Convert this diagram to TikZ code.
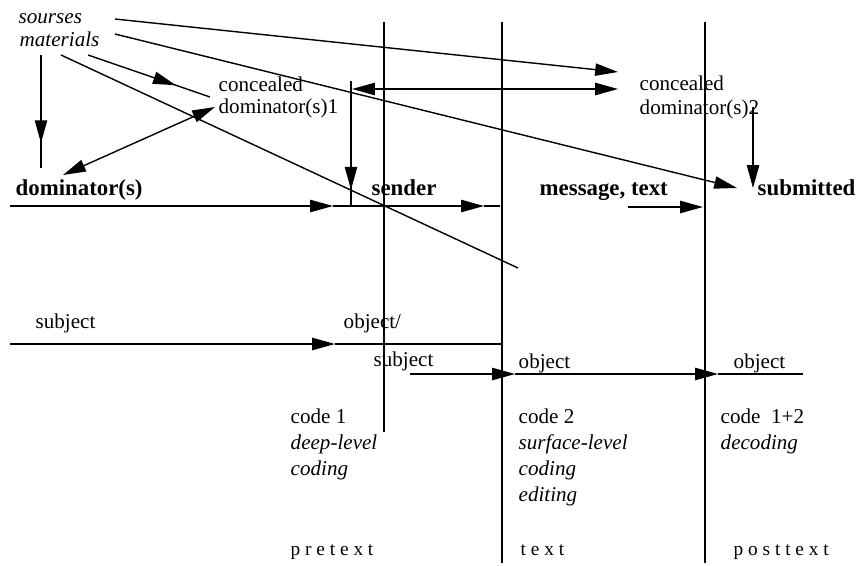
\documentclass[tikz,border=0pt]{standalone}
\usepackage{fontspec}
\setmainfont{Liberation Serif}
\usepackage{tikz}
\usetikzlibrary{arrows.meta,decorations.markings}
\usetikzlibrary{calc}
\usetikzlibrary{positioning}

\begin{document}
\begin{tikzpicture}
	[
	x=0.02cm, y=-0.02cm,
	> = {Triangle[length=13pt,width=7pt]},
	line width=0.8pt,
	every node/.style = {font=\fontsize{12}{14}\selectfont, inner sep=0pt, anchor=base west},
	lbl/.style = {font=\fontsize{13}{15}\selectfont\bfseries},
	src/.style = {font=\fontsize{12}{14}\selectfont\itshape},
	phase/.style = {font=\fontsize{11}{13}\selectfont},
	arrow mid/.style = {postaction=decorate,decoration={markings,mark=at position #1 with \arrow{>}}}
	]
	\useasboundingbox (0,0) rectangle (857,565);
	% texts
	\node[src] (sourses) at (18,23) {sourses};
	\node[src] (materials) at (19,46) {materials};
	\node (conc1) at (218,91) {concealed};
	\node (dom1) at (218,113) {dominator(s)1};
	\node (conc2) at (639,90) {concealed};
	\node (dom2) at (639,114) {dominator(s)2};
	\node[lbl] (dominators) at (15,195) {dominator(s)};
	\node[lbl] (sender) at (371,195) {sender};
	\node[lbl] (message) at (539,195) {message, text};
	\node[lbl] (submitted) at (757,195) {submitted};
	\node (subj) at (35,328) {subject};
	\node (objsubj) at (343,328) {object/};
	\node (subj2) at (373,366) {subject};
	\node (obj1) at (518,368) {object};
	\node (obj2) at (733,368) {object};
	\node (code1) at (290,423) {code 1};
	\node[src] (deep) at (290,449) {deep-level};
	\node[src] (coding1) at (290,475) {coding};
	\node (code2) at (518,423) {code 2};
	\node[src] (surface) at (518,449) {surface-level};
	\node[src] (coding2) at (518,475) {coding};
	\node[src] (editing) at (518,501) {editing};
	\node (code3) at (720,423) {code\ \ 1+2};
	\node[src] (decoding) at (720,449) {decoding};
	\node[phase] (pretext) at (290,555) {p r e t e x t};
	\node[phase] (text) at (520,555) {t e x t};
	\node[phase] (posttext) at (733,555) {p o s t t e x t};
	% ends of the connectors
	\coordinate (v1a) at (384,22);  \coordinate (v1b) at (384,432);
	\coordinate (v2a) at (502,22);  \coordinate (v2b) at (502,563);
	\coordinate (v3a) at (705,22);  \coordinate (v3b) at (705,563);
	\coordinate (s1) at (115,19);   \coordinate (s1e) at (618,72);
	\coordinate (s2) at (115,34);   \coordinate (s2e) at (737,188);
	\coordinate (m1) at (88,55);    \coordinate (m1e) at (210,97);
	\coordinate (m2) at (61,55);    \coordinate (m2e) at (518,268);
	\coordinate (m3) at (41,55);    \coordinate (m3e) at (41,168);
	\coordinate (c1) at (215,107);  \coordinate (c1e) at (63,175);
	\coordinate (c2) at (352,89);   \coordinate (c2e) at (618,89);
	\coordinate (c3) at (351,81);   \coordinate (c3e) at (351,206);
	\coordinate (c4) at (753,107);  \coordinate (c4e) at (753,188);
	\coordinate (h1) at (10,206);   \coordinate (h1a) at (333,206);
	\coordinate (h1b) at (484,206); \coordinate (h1e) at (500,206);
	\coordinate (h2) at (628,207);  \coordinate (h2e) at (703,207);
	\coordinate (h3) at (10,344);   \coordinate (h3a) at (335,344);
	\coordinate (h3e) at (502,344);
	\coordinate (h4) at (410,374);  \coordinate (h4a) at (515,374);
	\coordinate (h4b) at (718,374); \coordinate (h4e) at (803,374);
	% vertical borders
	\draw (v1a) -- (v1b);
	\draw (v2a) -- (v2b);
	\draw (v3a) -- (v3b);
	% upper part
	\draw[->] (s1) -- (s1e);
	\draw[->] (s2) -- (s2e);
	\draw[arrow mid=0.72] (m1) -- (m1e);
	\draw (m2) -- (m2e);
	\draw[arrow mid=0.78] (m3) -- (m3e);
	\draw[<->] (c1) -- (c1e);
	\draw[<->] (c2) -- (c2e);
	\draw[arrow mid=0.87] (c3) -- (c3e);
	\draw[->] (c4) -- (c4e);
	\draw[->] (h1) -- (h1a);
	\draw[->] (h1a) -- (h1b);
	\draw (h1b) -- (h1e);
	\draw[->] (h2) -- (h2e);
	% lower part
	\draw[->] (h3) -- (h3a);
	\draw (h3a) -- (h3e);
	\draw[->] (h4) -- (h4a);
	\draw[->] (h4a) -- (h4b);
	\draw (h4b) -- (h4e);
\end{tikzpicture}
\end{document}
